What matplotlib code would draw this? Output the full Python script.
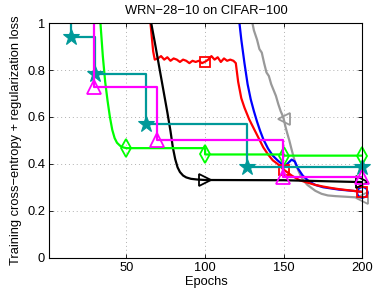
#!/usr/bin/env python3

import matplotlib
matplotlib.use("Agg")
import matplotlib.pyplot as plt

# step like curves (held value, drop at the next epoch)
teal_epochs = [7, 15, 30, 62.5, 126.5, 200]
teal_loss = [1.1, 0.94, 0.782, 0.568, 0.388, 0.388]

magenta_epochs = [10, 29.5, 69.5, 149.5, 200]
magenta_loss = [1.1, 0.73, 0.502, 0.345, 0.345]

green_epochs = [33.5, 35, 36.5, 38, 39.5, 41, 42.5, 44, 46, 48, 50, 100, 100, 150, 150, 200]
green_loss = [1.0, 0.86, 0.75, 0.67, 0.6, 0.545, 0.51, 0.49, 0.477, 0.47, 0.467, 0.467, 0.44, 0.44, 0.435, 0.435]

black_epochs = [65.5, 68, 70, 72, 74, 76, 78, 79.5, 81, 82.5, 84, 86, 88, 91, 95, 100, 150, 200]
black_loss = [1.01, 0.92, 0.845, 0.77, 0.695, 0.62, 0.54, 0.47, 0.42, 0.385, 0.365, 0.35, 0.342,
              0.336, 0.333, 0.331, 0.33, 0.322]

red_epochs = [65, 66, 67, 68, 70, 72, 74, 76, 78, 80, 82, 84, 86, 88, 90, 92, 94, 96, 98, 100,
              102, 104, 106, 108, 110, 112, 114, 116, 118, 119.5, 121, 123, 125, 128, 131, 134,
              137, 140, 143, 146, 150, 155, 160, 165, 170, 175, 180, 185, 190, 195, 200]
red_loss = [1.02, 0.95, 0.88, 0.845, 0.85, 0.86, 0.845, 0.855, 0.84, 0.85, 0.845, 0.835, 0.845,
            0.84, 0.83, 0.84, 0.835, 0.84, 0.83, 0.836, 0.845, 0.86, 0.845, 0.855, 0.835, 0.85,
            0.84, 0.845, 0.84, 0.83, 0.75, 0.68, 0.64, 0.59, 0.55, 0.51, 0.47, 0.44, 0.415, 0.40,
            0.375, 0.35, 0.33, 0.32, 0.31, 0.303, 0.297, 0.292, 0.288, 0.284, 0.28]

blue_epochs = [121.5, 123, 125, 127, 129, 131, 133, 135, 137, 140, 143, 146, 149, 151, 153, 155,
               157, 159, 162, 166, 170, 175, 180, 185, 190, 195, 200]
blue_loss = [1.02, 0.93, 0.83, 0.74, 0.675, 0.625, 0.58, 0.54, 0.505, 0.465, 0.435, 0.415, 0.398,
             0.392, 0.405, 0.418, 0.41, 0.38, 0.35, 0.325, 0.31, 0.30, 0.295, 0.29, 0.287, 0.284,
             0.28]

gray_epochs = [129.5, 131, 133, 134.5, 136, 137.5, 139, 140.5, 142, 143.5, 145, 146.5, 148, 149,
               150, 151, 152, 153.5, 155, 157, 159, 161, 163, 165, 167, 170, 174, 178, 183, 188,
               193, 198, 200]
gray_loss = [1.02, 0.97, 0.93, 0.89, 0.875, 0.83, 0.79, 0.775, 0.74, 0.715, 0.69, 0.655, 0.625,
             0.61, 0.59, 0.56, 0.535, 0.50, 0.46, 0.41, 0.375, 0.345, 0.325, 0.31, 0.30, 0.285,
             0.272, 0.265, 0.262, 0.26, 0.258, 0.256, 0.255]

x_ticks = [50, 100, 150, 200]
y_ticks = [0, 0.2, 0.4, 0.6, 0.8, 1]
y_tick_labels = ["0", "0.2", "0.4", "0.6", "0.8", "1"]

TEAL = (0.0, 0.6, 0.6)
GRAY = (0.6, 0.6, 0.6)


def marks_at(epochs, where):
    """indices of the points that carry a marker"""
    return [i for i, e in enumerate(epochs) if e in where]


def curve(ax, x, y, color, marker, ms, every, step=False, fill="none", mew=1.3):
    """line clipped to the axes, markers drawn on top without clipping"""
    ds = "steps-post" if step else "default"
    ax.plot(x, y, color=color, lw=1.6, drawstyle=ds)
    ax.plot(x, y, color=color, ls="none", marker=marker, ms=ms, mew=mew,
            mfc=fill, markevery=every, clip_on=False)


def main():
    plt.rcParams["font.family"] = ["Liberation Sans", "DejaVu Sans"]
    plt.rcParams["font.size"] = 9.3

    fig = plt.figure(figsize=(3.77, 2.94), dpi=100)
    ax = fig.add_axes([0.1308, 0.1241, 0.8307, 0.7966])

    curve(ax, gray_epochs, gray_loss, GRAY, "<", 9, marks_at(gray_epochs, (150, 200)))
    curve(ax, blue_epochs, blue_loss, "blue", "o", 7.5, marks_at(blue_epochs, (200,)))
    curve(ax, red_epochs, red_loss, "red", "s", 7.5, marks_at(red_epochs, (100, 150, 200)))
    curve(ax, black_epochs, black_loss, "black", ">", 9, marks_at(black_epochs, (100, 200)))
    curve(ax, green_epochs, green_loss, (0, 1, 0), "d", 9, [10, 12, 14, 15])
    curve(ax, teal_epochs, teal_loss, TEAL, "*", 12, slice(1, None), step=True,
          fill=TEAL, mew=0.8)
    curve(ax, magenta_epochs, magenta_loss, "magenta", "^", 10, slice(1, None), step=True)

    ax.set_xlim(1, 200)
    ax.set_ylim(0, 1)
    ax.set_xticks(x_ticks)
    ax.set_yticks(y_ticks)
    ax.set_yticklabels(y_tick_labels)
    ax.grid(True, linestyle=(0, (1, 3)), color="#b0b0b0", linewidth=0.7)
    ax.tick_params(direction="in", length=3, width=0.6, top=True, right=True, pad=3)
    for s in ax.spines.values():
        s.set_linewidth(0.8)

    ax.set_title("WRN\u221228\u221210 on CIFAR\u2212100", fontsize=9.3, pad=7)
    ax.set_xlabel("Epochs", labelpad=1.5)
    ax.set_ylabel("Training cross\u2212entropy + regularization loss", labelpad=4)

    fig.savefig("out.png", dpi=100)
    plt.close(fig)


if __name__ == "__main__":
    main()
